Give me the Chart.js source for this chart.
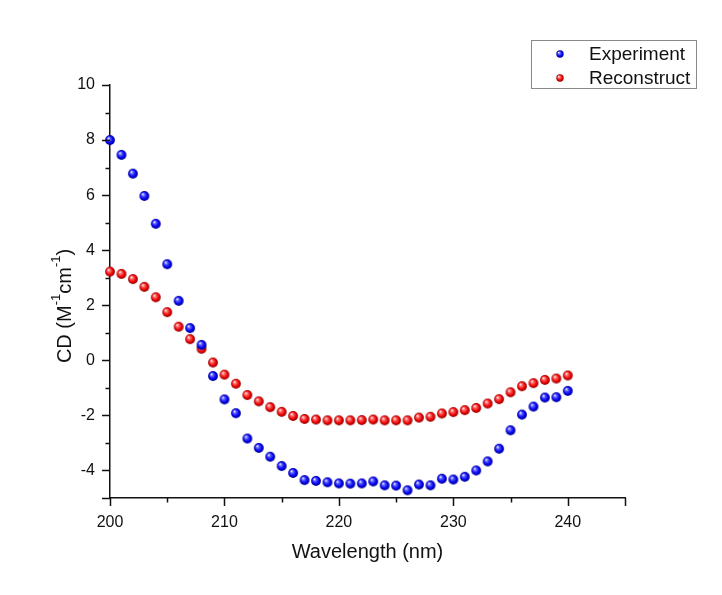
<!DOCTYPE html>
<html>
<head>
<meta charset="utf-8">
<title>CD spectrum</title>
<script src="https://cdn.jsdelivr.net/npm/chart.js@4/dist/chart.umd.min.js"></script>
<style>
  html, body { margin: 0; padding: 0; background: #ffffff; }
  #wrap { width: 722px; height: 595px; position: relative; }
</style>
</head>
<body>
<div id="wrap"><canvas id="cd" width="722" height="595"></canvas></div>
<script>
// Wavelength grid (nm)
const wavelengths = [200, 201, 202, 203, 204, 205, 206, 207, 208, 209,
  210, 211, 212, 213, 214, 215, 216, 217, 218, 219,
  220, 221, 222, 223, 224, 225, 226, 227, 228, 229,
  230, 231, 232, 233, 234, 235, 236, 237, 238, 239, 240];

// Measured CD signal (M^-1 cm^-1)
const experiment = [8.00, 7.46, 6.78, 5.97, 4.96, 3.49, 2.16, 1.17, 0.56, -0.57,
  -1.42, -1.92, -2.84, -3.18, -3.50, -3.84, -4.09, -4.35, -4.38, -4.43,
  -4.47, -4.48, -4.47, -4.40, -4.54, -4.55, -4.72, -4.51, -4.54, -4.30,
  -4.33, -4.23, -4.00, -3.67, -3.21, -2.54, -1.97, -1.68, -1.35, -1.34, -1.11];

// Reconstructed CD signal (M^-1 cm^-1)
const reconstruct = [3.22, 3.14, 2.95, 2.67, 2.29, 1.75, 1.22, 0.77, 0.42, -0.08,
  -0.52, -0.85, -1.26, -1.49, -1.70, -1.87, -2.02, -2.13, -2.15, -2.18,
  -2.18, -2.18, -2.17, -2.15, -2.18, -2.18, -2.18, -2.08, -2.05, -1.93,
  -1.88, -1.81, -1.73, -1.57, -1.41, -1.16, -0.94, -0.83, -0.71, -0.66, -0.55];

const seriesLabels = ['Experiment', 'Reconstruct'];
const xTickLabels = [200, 210, 220, 230, 240];
const yTickLabels = [-4, -2, 0, 2, 4, 6, 8, 10];

const FONT = '"Liberation Sans", Arial, Helvetica, sans-serif';
const INK = '#111111';

// Shaded sphere sprite used as the point marker
function makeBall(r, light, mid, base, dark) {
  const size = Math.ceil(r * 2) + 2;
  const c = document.createElement('canvas');
  c.width = size; c.height = size;
  const g = c.getContext('2d');
  const cx = size / 2, cy = size / 2;
  const grad = g.createRadialGradient(cx - r * 0.35, cy - r * 0.4, r * 0.05, cx, cy, r);
  grad.addColorStop(0, light);
  grad.addColorStop(0.3, mid);
  grad.addColorStop(0.7, base);
  grad.addColorStop(1, dark);
  g.fillStyle = grad;
  g.beginPath();
  g.arc(cx, cy, r, 0, Math.PI * 2);
  g.fill();
  return c;
}
const blueBall = makeBall(4.9, '#f4f4ff', '#5a5aff', '#0000f2', '#00008c');
const redBall = makeBall(4.9, '#fff4f4', '#ff6464', '#ee0000', '#8c0000');
const blueBallSmall = makeBall(3.7, '#f4f4ff', '#5a5aff', '#0000f2', '#00008c');
const redBallSmall = makeBall(3.7, '#fff4f4', '#ff6464', '#ee0000', '#8c0000');

const points = (ys) => wavelengths.map((x, i) => ({ x: x, y: ys[i] }));

// Tick marks (major + minor), axis titles and the boxed legend
const decorations = {
  id: 'decorations',
  afterDraw(chart) {
    const ctx = chart.ctx;
    const xs = chart.scales.x, ys = chart.scales.y;
    const area = chart.chartArea;
    ctx.save();
    ctx.strokeStyle = INK;
    ctx.lineWidth = 1.5;
    ctx.beginPath();
    for (let v = 200; v <= 245; v += 5) {
      const px = Math.round(xs.getPixelForValue(v)) + 0.5;
      const len = (v % 10 === 0 || v === 245) ? 8 : 4.5;
      ctx.moveTo(px, area.bottom);
      ctx.lineTo(px, area.bottom + len);
    }
    for (let v = -5; v <= 10; v += 1) {
      const py = Math.round(ys.getPixelForValue(v)) + 0.5;
      const len = (v % 2 === 0 || v === -5) ? 8 : 4.5;
      ctx.moveTo(area.left, py);
      ctx.lineTo(area.left - len, py);
    }
    ctx.stroke();

    // x-axis title
    ctx.fillStyle = INK;
    ctx.font = '20px ' + FONT;
    ctx.textAlign = 'center';
    ctx.textBaseline = 'alphabetic';
    ctx.fillText('Wavelength (nm)', (area.left + area.right) / 2, 558);

    // y-axis title with superscripts
    const parts = [
      { t: 'CD (M', sup: false },
      { t: '-1', sup: true },
      { t: 'cm', sup: false },
      { t: '-1', sup: true },
      { t: ')', sup: false }
    ];
    const mainFont = '20px ' + FONT;
    const supFont = '13px ' + FONT;
    let total = 0;
    parts.forEach(p => {
      ctx.font = p.sup ? supFont : mainFont;
      p.w = ctx.measureText(p.t).width;
      total += p.w;
    });
    ctx.translate(71, 306);
    ctx.rotate(-Math.PI / 2);
    ctx.textAlign = 'left';
    let cx = -total / 2;
    parts.forEach(p => {
      ctx.font = p.sup ? supFont : mainFont;
      ctx.fillText(p.t, cx, p.sup ? -11 : 0);
      cx += p.w;
    });
    ctx.setTransform(1, 0, 0, 1, 0, 0);

    // legend
    ctx.strokeStyle = '#8a8a8a';
    ctx.lineWidth = 1;
    ctx.strokeRect(531.5, 40.5, 165, 48);
    const sprites = [blueBallSmall, redBallSmall];
    const rowsY = [54, 78];
    ctx.font = '19px ' + FONT;
    ctx.fillStyle = INK;
    ctx.textAlign = 'left';
    ctx.textBaseline = 'middle';
    chart.data.datasets.forEach((ds, i) => {
      const s = sprites[i];
      ctx.drawImage(s, 560 - s.width / 2, rowsY[i] - s.height / 2);
      ctx.fillText(ds.label, 589, rowsY[i] + 1);
    });
    ctx.restore();
  }
};

new Chart(document.getElementById('cd'), {
  type: 'scatter',
  data: {
    datasets: [
      { label: seriesLabels[0], data: points(experiment), pointStyle: blueBall,
        pointRadius: 5, pointHoverRadius: 5, showLine: false, clip: false,
        backgroundColor: '#0000f2', borderColor: '#0000f2' },
      { label: seriesLabels[1], data: points(reconstruct), pointStyle: redBall,
        pointRadius: 5, pointHoverRadius: 5, showLine: false, clip: false,
        backgroundColor: '#ee0000', borderColor: '#ee0000' }
    ]
  },
  options: {
    responsive: false,
    animation: false,
    devicePixelRatio: 1,
    layout: { padding: { top: 85, right: 97, left: 0, bottom: 0 } },
    plugins: { legend: { display: false }, tooltip: { enabled: false } },
    scales: {
      x: {
        type: 'linear', min: 200, max: 245,
        afterFit(scale) { scale.height = 97; },
        grid: { display: false },
        border: { display: true, color: INK, width: 1.5 },
        ticks: {
          stepSize: 5, autoSkip: false, maxRotation: 0, padding: 7,
          color: INK, font: { family: FONT, size: 16 },
          callback: (v) => xTickLabels.includes(v) ? String(v) : ''
        }
      },
      y: {
        type: 'linear', min: -5, max: 10,
        afterFit(scale) { scale.width = 110; },
        grid: { display: false },
        border: { display: true, color: INK, width: 1.5 },
        ticks: {
          stepSize: 1, autoSkip: false, padding: 7,
          color: INK, font: { family: FONT, size: 16 },
          callback: (v) => yTickLabels.includes(v) ? String(v) : ''
        }
      }
    }
  },
  plugins: [decorations]
});
</script>
</body>
</html>
